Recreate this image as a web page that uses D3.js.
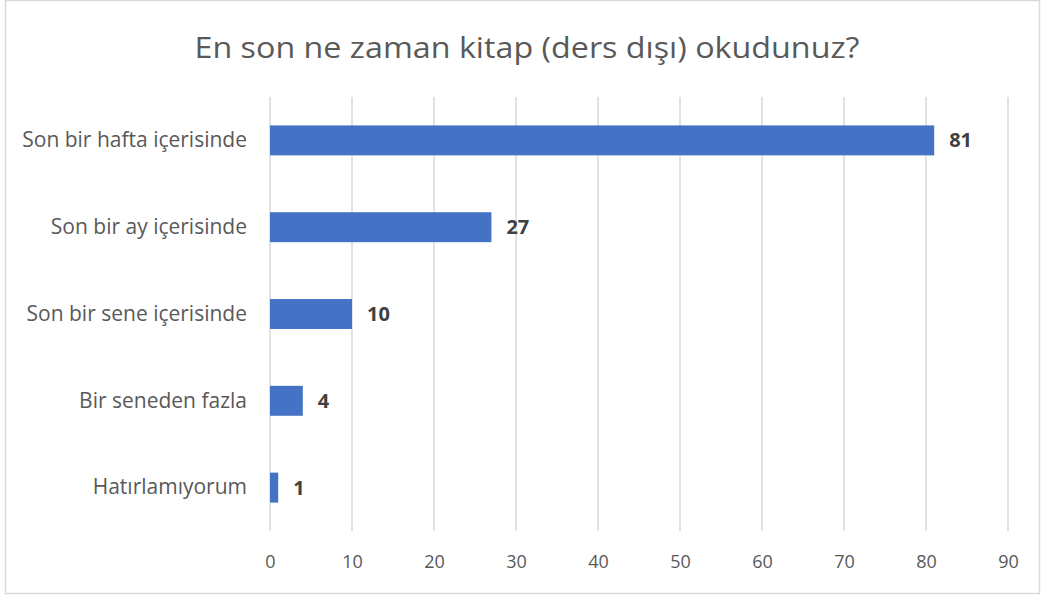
<!DOCTYPE html>
<html><head><meta charset="utf-8">
<script src="https://cdn.jsdelivr.net/npm/d3@7"></script>
<style>body{margin:0;background:#fff}svg{display:block}</style>
</head><body>
<svg id="c" width="1043" height="599"></svg>
<script>
const title = "En son ne zaman kitap (ders dışı) okudunuz?";
const categories = ["Son bir hafta içerisinde","Son bir ay içerisinde","Son bir sene içerisinde","Bir seneden fazla","Hatırlamıyorum"];
const values = [81,27,10,4,1];
const ticks = [0,10,20,30,40,50,60,70,80,90];

const svg = d3.select("#c");
const font = "'Open Sans', 'Noto Sans', sans-serif";
svg.append("rect").attr("x",5.5).attr("y",0.5).attr("width",1034).attr("height",593)
  .attr("fill","#fff").attr("stroke","#d9d9d9").attr("stroke-width",1.5);

const x = d3.scaleLinear().domain([0,90]).range([270,1008]);
const y = d3.scaleBand().domain(categories).range([97,531]).paddingInner(0.655).paddingOuter(0.3275);

svg.append("text").attr("x",527).attr("y",58).attr("text-anchor","middle")
  .attr("font-family",font).attr("font-size",30).attr("fill","#595959")
  .attr("textLength",665).attr("lengthAdjust","spacingAndGlyphs").text(title);

svg.append("g").selectAll("line").data(ticks).join("line")
  .attr("x1",d=>x(d)).attr("x2",d=>x(d)).attr("y1",97).attr("y2",531)
  .attr("stroke","#d9d9d9").attr("stroke-width",1.5);

const xa = svg.append("g").attr("transform","translate(0,531)")
  .call(d3.axisBottom(x).tickValues(ticks).tickSize(0).tickPadding(24));
xa.select(".domain").remove();
xa.selectAll("text").attr("font-family",font).attr("font-size",18).attr("fill","#595959");

const ya = svg.append("g").attr("transform","translate(270,0)")
  .call(d3.axisLeft(y).tickSize(0).tickPadding(23));
ya.select(".domain").remove();
ya.selectAll("text").attr("font-family",font).attr("font-size",21).attr("fill","#595959");

svg.append("g").selectAll("rect").data(values).join("rect")
  .attr("x",x(0)).attr("y",(d,i)=>y(categories[i]))
  .attr("width",d=>x(d)-x(0)).attr("height",y.bandwidth()).attr("fill","#4472c4");

svg.append("g").selectAll("text").data(values).join("text")
  .attr("x",d=>x(d)+15).attr("y",(d,i)=>y(categories[i])+y.bandwidth()/2)
  .attr("dy","0.35em").attr("font-family",font).attr("font-size",20).attr("font-weight","bold")
  .attr("fill","#404040").text(d=>d);
</script>
</body></html>
